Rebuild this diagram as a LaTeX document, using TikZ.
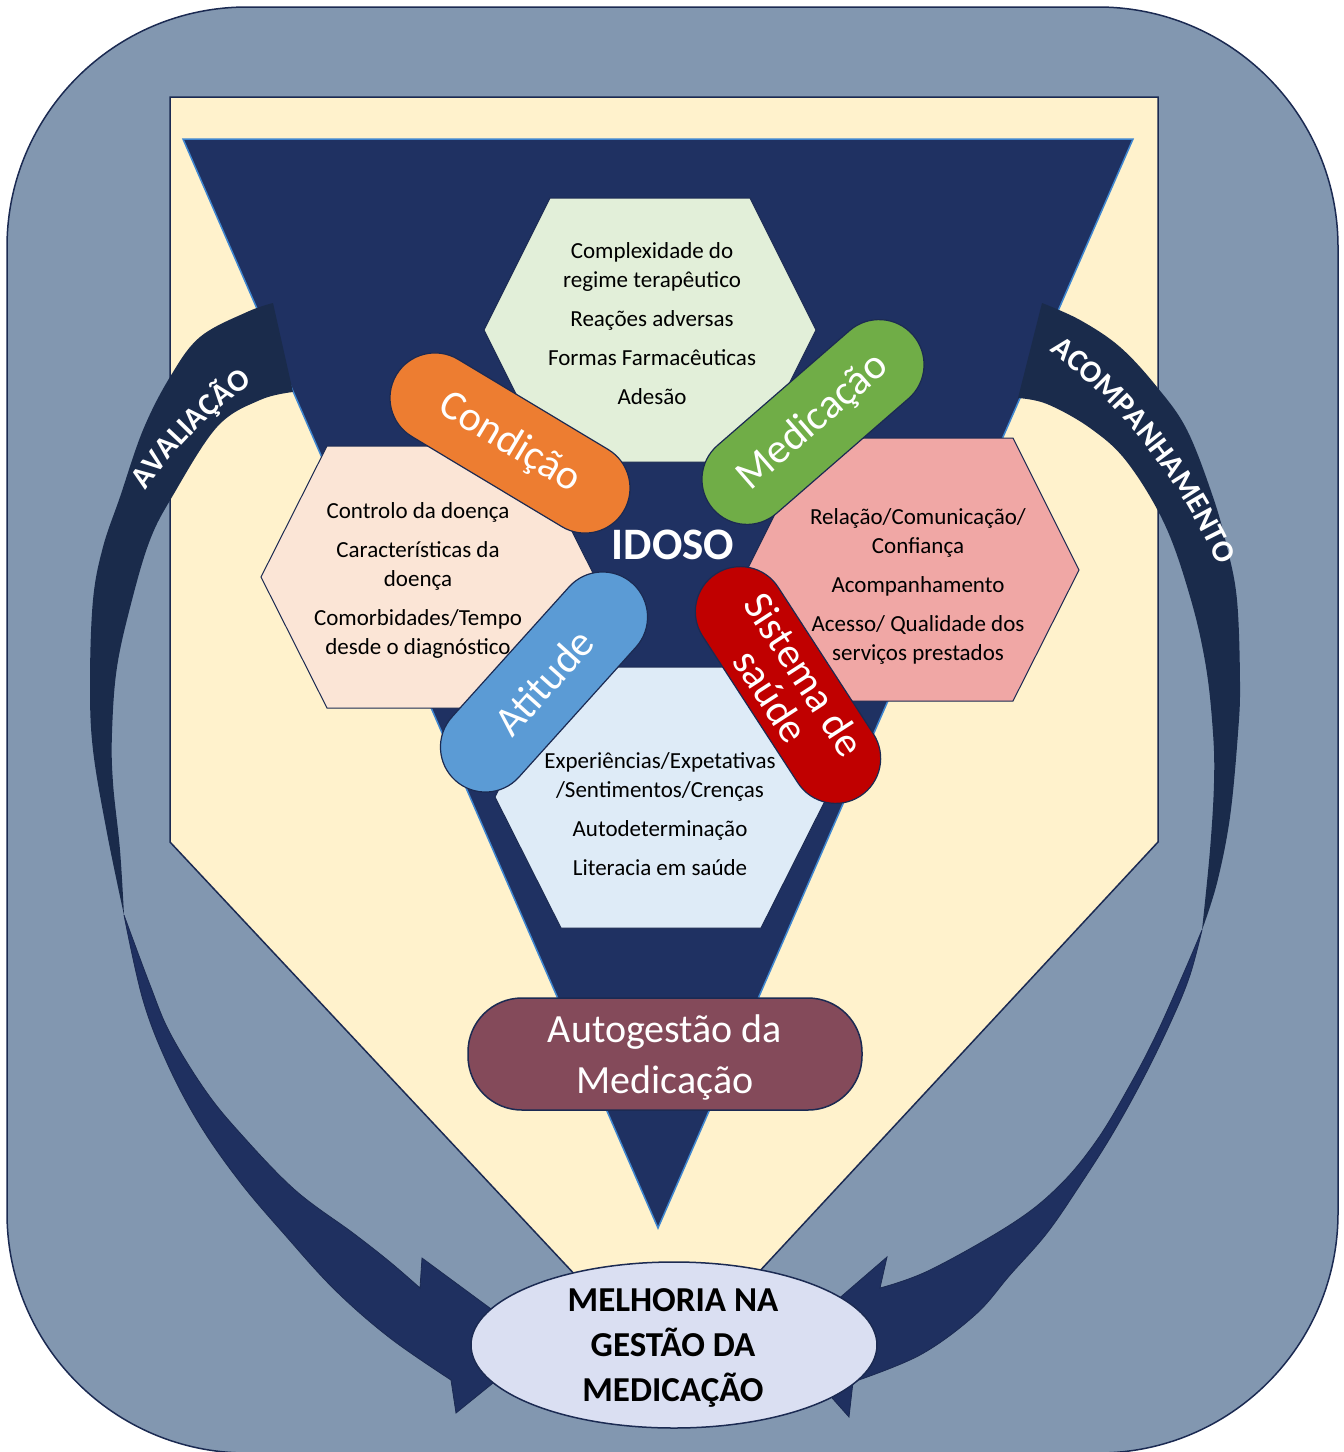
\documentclass[tikz,border=0pt]{standalone}
\usepackage{fontspec}
\setmainfont{Carlito}
\usetikzlibrary{decorations.text,shapes.geometric}
\definecolor{steel}{HTML}{8297B0}
\definecolor{cream}{HTML}{FFF2CC}
\definecolor{navy}{HTML}{1F3162}
\definecolor{navyline}{HTML}{1B2A52}
\definecolor{triedge}{HTML}{3F86D0}
\definecolor{arrowback}{HTML}{1A2B4B}
\definecolor{arrowfront}{HTML}{1F3060}
\definecolor{hexgreen}{HTML}{E2EFD9}
\definecolor{hexpeach}{HTML}{FBE5D6}
\definecolor{hexpink}{HTML}{F0A7A5}
\definecolor{hexblue}{HTML}{DEEBF7}
\definecolor{pillorange}{HTML}{ED7D31}
\definecolor{pillgreen}{HTML}{70AD47}
\definecolor{pillblue}{HTML}{5B9BD5}
\definecolor{pillred}{HTML}{C00000}
\definecolor{maroon}{HTML}{844A5A}
\definecolor{lavender}{HTML}{DADFF2}
\newcommand\arrowlabelfont{\color{white}\bfseries\fontsize{31}{31}\selectfont}
\tikzset{
  hexbox/.style={draw=navyline, line width=1pt},
  hextext/.style={align=center, font=\fontsize{23}{29}\selectfont, text=black, inner sep=0pt},
  pill/.style={draw=navyline, line width=1.2pt, rounded corners=45pt, minimum width=265pt, minimum height=90pt, inner sep=0pt, text=white, font=\fontsize{42}{42}\selectfont, align=center},
  backband/.style={fill=arrowback},
  frontband/.style={fill=arrowfront, draw=navyline, line width=0.8pt},
}
\begin{document}
\begin{tikzpicture}[x=1pt,y=-1pt]
\useasboundingbox (0,0) rectangle (1344,1452);
% outer frame
\filldraw[fill=steel, draw=navyline, line width=1.5pt, rounded corners=240pt] (7,7) rectangle (1338,1453);
% cream pentagon
\filldraw[fill=cream, draw=navyline, line width=1.5pt] (170,97) -- (1158,97) -- (1158,842) -- (666,1372) -- (170,842) -- cycle;
% navy triangle
\filldraw[fill=navy, draw=triedge, line width=1.5pt] (183,139) -- (1133,139) -- (658,1228) -- cycle;
% left arrow (back part)
\fill[backband] plot[smooth, tension=0.6] coordinates {(273,303) (247,312) (200,337) (170,377) (143,430) (120,497) (103,547) (93,600) (90,683) (93,750) (107,833) (124,915)}
  -- plot[smooth, tension=0.6] coordinates {(124,915) (120,850) (113,783) (112,733) (117,667) (132,600) (150,540) (172,497) (217,427) (260,400) (293,392)} -- cycle;
% left arrow (front part)
\filldraw[frontband] plot[smooth, tension=0.6] coordinates {(124,915) (143,1000) (168,1065) (200,1125) (240,1182) (285,1235) (335,1290) (390,1338) (451,1380)}
  -- (456,1413) -- (540,1345) -- (422,1258) -- (420,1288)
  -- plot[smooth, tension=0.6] coordinates {(420,1288) (390,1262) (353,1233) (295,1190) (240,1133) (205,1090) (170,1033) (150,985) (124,915)} -- cycle;
% right arrow (back part)
\fill[backband] plot[smooth, tension=0.6] coordinates {(1042,303) (1080,320) (1120,347) (1157,387) (1187,430) (1213,497) (1227,547) (1237,600) (1240,683) (1238,733) (1230,817) (1217,883) (1202,930)}
  -- plot[smooth, tension=0.6] coordinates {(1202,930) (1210,850) (1214,783) (1213,733) (1206,667) (1191,600) (1165,525) (1127,462) (1090,428) (1047,404) (1018,398)} -- cycle;
% right arrow (front part)
\filldraw[frontband] plot[smooth, tension=0.6] coordinates {(1202,930) (1190,975) (1173,1017) (1145,1075) (1113,1133) (1080,1185) (1047,1233) (1010,1275) (975,1315) (920,1355) (853,1382)}
  -- (849,1417) -- (785,1345) -- (887,1257) -- (880,1288)
  -- plot[smooth, tension=0.6] coordinates {(880,1288) (930,1270) (1013,1223) (1060,1185) (1097,1140) (1130,1085) (1157,1033) (1185,970) (1202,930)} -- cycle;
% arrow labels
\path[decorate, decoration={text along path, text align=center, text={|\arrowlabelfont|AVALIAÇÃO}}]
  (114.5,546) .. controls (154.2,460.8) and (222.8,392.2) .. (308,352.5);
\path[decorate, decoration={text along path, text align=center, text={|\arrowlabelfont|ACOMPANHAMENTO}}]
  (1005.4,319.6) .. controls (1115.0,388.1) and (1197.1,493.0) .. (1237.1,616.0);
% hexagons
\filldraw[hexbox, fill=hexgreen] (550,198) -- (750,198) -- (816,330) -- (750,462) -- (550,462) -- (484,330) -- cycle;
\filldraw[hexbox, fill=hexpeach] (327,446) -- (529,446) -- (595,577) -- (529,708) -- (327,708) -- (261,577) -- cycle;
\filldraw[hexbox, fill=hexpink] (813,438) -- (1013,438) -- (1079,570) -- (1013,701) -- (813,701) -- (747,570) -- cycle;
\filldraw[hexbox, fill=hexblue] (561,667) -- (761,667) -- (827,797) -- (761,928) -- (561,928) -- (495,797) -- cycle;
% hexagon texts
\node[hextext] (medtext) at (652,324) {Complexidade do\\regime terapêutico\\[10pt]Reações adversas\\[10pt]Formas Farmacêuticas\\[10pt]Adesão};
\node[hextext] (condtext) at (418,580) {Controlo da doença\\[10pt]Características da\\doença\\[10pt]Comorbidades/Tempo\\desde o diagnóstico};
\node[hextext] (sistext) at (918,586) {Relação/Comunicação/\\Confiança\\[10pt]Acompanhamento\\[10pt]Acesso/ Qualidade dos\\serviços prestados};
\node[hextext] (atitext) at (660,814) {Experiências/Expetativas\\/Sentimentos/Crenças\\[10pt]Autodeterminação\\[10pt]Literacia em saúde};
% pills
\node[pill, fill=pillorange, rotate=-31] (condicao) at (510,443) {Condição};
\node[pill, fill=pillgreen, rotate=41] (medicacao) at (813,422) {Medicação};
\node[pill, fill=pillblue, rotate=48] (atitude) at (544,682) {Atitude};
\node[pill, fill=pillred, rotate=-57, font=\fontsize{42}{40}\selectfont] (sistema) at (788,685) {Sistema de\\saúde};
% centre label
\node[text=white, font=\bfseries\fontsize{45}{45}\selectfont, inner sep=0pt] (idoso) at (673,545) {IDOSO};
% autogestao
\node[draw=navyline, line width=1.5pt, fill=maroon, rounded corners=54pt, minimum width=394pt, minimum height=112pt, text=white, align=center, font=\fontsize{40}{50}\selectfont, inner sep=0pt] (auto) at (665,1054) {};
\node[text=white, align=center, font=\fontsize{40}{51}\selectfont, inner sep=0pt] (autotext) at (665,1057) {Autogestão da\\Medicação};
% result ellipse
\node[draw=navyline, line width=1.5pt, fill=lavender, ellipse, minimum width=406pt, minimum height=166pt, inner sep=0pt] (melhoria) at (674,1345) {};
\node[font=\bfseries\fontsize{35}{45}\selectfont, align=center, inner sep=0pt] (melhoriatext) at (673,1348) {MELHORIA NA\\GESTÃO DA\\MEDICAÇÃO};
\end{tikzpicture}
\end{document}
